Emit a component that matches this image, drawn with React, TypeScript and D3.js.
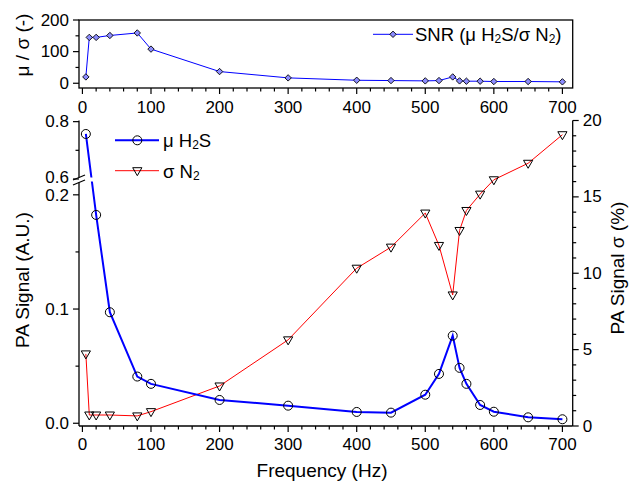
import React from "react";
import * as d3 from "d3";

const freqSNR = [5, 10, 20, 40, 80, 100, 200, 300, 400, 450, 500, 520, 540, 550, 560, 580, 600, 650, 700];
const snrValues = [20, 145, 145, 151, 159, 108, 37, 17, 9.5, 8.5, 7.5, 8.5, 20, 7.5, 6.5, 6.5, 5.5, 5.5, 4.5];

const freqH2S = [5, 20, 40, 80, 100, 200, 300, 400, 450, 500, 520, 540, 550, 560, 580, 600, 650, 700];
const h2sValues = [0.757, 0.1824, 0.0972, 0.0409, 0.0345, 0.0204, 0.0154, 0.0099, 0.0093, 0.025, 0.0432, 0.0767, 0.0485, 0.0345, 0.016, 0.0101, 0.0052, 0.0035];

const freqN2 = [5, 10, 20, 40, 80, 100, 200, 300, 400, 450, 500, 520, 540, 550, 560, 580, 600, 650, 700];
const n2Values = [4.72, 0.72, 0.72, 0.72, 0.66, 0.94, 2.62, 5.64, 10.33, 11.71, 13.94, 11.82, 8.58, 12.8, 14.11, 15.18, 16.12, 17.2, 19.07];

const xTicks = [0, 100, 200, 300, 400, 500, 600, 700];
const xMinorTicks = d3.range(0, 701, 20).filter((v) => v % 100 !== 0);
const snrTicks = [0, 100, 200];
const snrMinorTicks = [50, 150];
const leftLowTicks = [0, 0.1, 0.2];
const leftLowMinor = [0.05, 0.15];
const leftHighTicks = [0.6, 0.8];
const leftHighMinor = [0.7];
const rightTicks = [0, 5, 10, 15, 20];
const rightMinor = d3.range(0, 21, 1).filter((v) => v % 5 !== 0);

const FONT = "'Liberation Sans', Arial, sans-serif";
const TICK_FS = 17;
const TITLE_FS = 19;

export default function App() {
  const x = d3.scaleLinear().domain([-5, 715]).range([79, 572.7]);
  const L = 79, R = 572.7;
  // top panel
  const T1 = 20, B1 = 88;
  const ySNR = d3.scaleLinear().domain([-15, 200]).range([B1, T1]);
  // bottom panel
  const T2 = 120.5, B2 = 426;
  const yLow = d3.scaleLinear().domain([-0.0024, 0.21]).range([B2, 183.4]);
  const yHigh = d3.scaleLinear().domain([0.586, 0.804]).range([183, T2]);
  const yLeft = (v: number) => (v > 0.4 ? yHigh(v) : yLow(v));
  const yRight = d3.scaleLinear().domain([0, 20]).range([B2, T2]);

  const snrLine = d3.line<number>().x((_, i) => x(freqSNR[i])).y((d) => ySNR(d));
  const h2sLine = d3.line<number>().x((_, i) => x(freqH2S[i])).y((d) => yLeft(d));
  const n2Line = d3.line<number>().x((_, i) => x(freqN2[i])).y((d) => yRight(d));

  const diamond = (cx: number, cy: number, s = 3.2) =>
    `M${cx},${cy - s}L${cx + s},${cy}L${cx},${cy + s}L${cx - s},${cy}Z`;
  const tri = (cx: number, cy: number) =>
    `M${cx - 4.6},${cy - 3}L${cx + 4.6},${cy - 3}L${cx},${cy + 5}Z`;

  const txt = { fontFamily: FONT, fill: "#000" } as const;

  return (
    <svg width={629} height={486} style={{ position: "absolute", left: 0, top: 0, background: "#fff" }}>
      <defs>
        <clipPath id="brk">
          <rect x={L} y={T2 - 10} width={R - L} height={177.5 - (T2 - 10)} />
          <rect x={L} y={181.5} width={R - L} height={B2 + 10 - 181.5} />
        </clipPath>
      </defs>

      {/* ===== TOP PANEL ===== */}
      <rect x={L} y={T1} width={R - L} height={B1 - T1} fill="none" stroke="#000" strokeWidth={1.3} />
      {xTicks.map((v) => (
        <g key={"tx" + v}>
          <line x1={x(v)} x2={x(v)} y1={B1} y2={B1 + 6} stroke="#000" strokeWidth={1.2} />
          <text x={x(v)} y={107} textAnchor="middle" dominantBaseline="central" fontSize={TICK_FS} {...txt}>{v}</text>
        </g>
      ))}
      {xMinorTicks.map((v) => (
        <line key={"tmx" + v} x1={x(v)} x2={x(v)} y1={B1} y2={B1 + 3.5} stroke="#000" strokeWidth={1.2} />
      ))}
      {snrTicks.map((v) => (
        <g key={"sy" + v}>
          <line x1={L - 6} x2={L} y1={ySNR(v)} y2={ySNR(v)} stroke="#000" strokeWidth={1.2} />
          <text x={L - 10} y={ySNR(v)} textAnchor="end" dominantBaseline="central" fontSize={TICK_FS} {...txt}>{v}</text>
        </g>
      ))}
      {snrMinorTicks.map((v) => (
        <line key={"smy" + v} x1={L - 3.5} x2={L} y1={ySNR(v)} y2={ySNR(v)} stroke="#000" strokeWidth={1.2} />
      ))}
      <text transform={`translate(22,${45}) rotate(-90)`} textAnchor="middle" dominantBaseline="central" fontSize={TITLE_FS} {...txt}>μ / σ (-)</text>
      <path d={snrLine(snrValues) || ""} fill="none" stroke="#0000ff" strokeWidth={1} />
      {snrValues.map((v, i) => (
        <path key={"sd" + i} d={diamond(x(freqSNR[i]), ySNR(v))} fill="#8c8cff" stroke="#000" strokeWidth={0.9} />
      ))}
      {/* top legend */}
      <line x1={373} x2={413} y1={34.3} y2={34.3} stroke="#0000ff" strokeWidth={1} />
      <path d={diamond(393, 34.3)} fill="#8c8cff" stroke="#000" strokeWidth={0.9} />
      <text x={415} y={34} dominantBaseline="central" fontSize={18.5} {...txt}>
        SNR (μ H<tspan fontSize={12} dy={5}>2</tspan><tspan dy={-5}>S/σ N</tspan><tspan fontSize={12} dy={5}>2</tspan><tspan dy={-5}>)</tspan>
      </text>

      {/* ===== BOTTOM PANEL ===== */}
      <line x1={L} x2={R} y1={B2} y2={B2} stroke="#000" strokeWidth={1.3} />
      {xTicks.map((v) => (
        <g key={"bx" + v}>
          <line x1={x(v)} x2={x(v)} y1={B2} y2={B2 + 6} stroke="#000" strokeWidth={1.2} />
          <text x={x(v)} y={444} textAnchor="middle" dominantBaseline="central" fontSize={TICK_FS} {...txt}>{v}</text>
        </g>
      ))}
      {xMinorTicks.map((v) => (
        <line key={"bmx" + v} x1={x(v)} x2={x(v)} y1={B2} y2={B2 + 3.5} stroke="#000" strokeWidth={1.2} />
      ))}
      <text x={322} y={470} textAnchor="middle" dominantBaseline="central" fontSize={TITLE_FS} {...txt}>Frequency (Hz)</text>

      {/* left broken axis */}
      <line x1={L} x2={L} y1={B2} y2={182.5} stroke="#000" strokeWidth={1.3} />
      <line x1={L} x2={L} y1={177.5} y2={T2} stroke="#000" strokeWidth={1.3} />
      <line x1={73} x2={85} y1={180} y2={175} stroke="#000" strokeWidth={1.2} />
      <line x1={73} x2={85} y1={185} y2={180} stroke="#000" strokeWidth={1.2} />
      {leftLowTicks.map((v) => (
        <g key={"ll" + v}>
          <line x1={L - 6} x2={L} y1={yLow(v)} y2={yLow(v)} stroke="#000" strokeWidth={1.2} />
          <text x={L - 10} y={yLow(v) + (v === 0.2 ? 1 : 0)} textAnchor="end" dominantBaseline="central" fontSize={TICK_FS} {...txt}>{v.toFixed(1)}</text>
        </g>
      ))}
      {leftLowMinor.map((v) => (
        <line key={"llm" + v} x1={L - 3.5} x2={L} y1={yLow(v)} y2={yLow(v)} stroke="#000" strokeWidth={1.2} />
      ))}
      {leftHighTicks.map((v) => (
        <g key={"lh" + v}>
          <line x1={L - 6} x2={L} y1={yHigh(v)} y2={yHigh(v)} stroke="#000" strokeWidth={1.2} />
          <text x={L - 10} y={yHigh(v) - (v === 0.6 ? 1.5 : 0)} textAnchor="end" dominantBaseline="central" fontSize={TICK_FS} {...txt}>{v.toFixed(1)}</text>
        </g>
      ))}
      {leftHighMinor.map((v) => (
        <line key={"lhm" + v} x1={L - 3.5} x2={L} y1={yHigh(v)} y2={yHigh(v)} stroke="#000" strokeWidth={1.2} />
      ))}
      <text transform={`translate(22,${280}) rotate(-90)`} textAnchor="middle" dominantBaseline="central" fontSize={TITLE_FS} {...txt}>PA Signal (A.U.)</text>

      {/* right axis */}
      <line x1={R} x2={R} y1={B2} y2={T2} stroke="#000" strokeWidth={1.3} />
      {rightTicks.map((v) => (
        <g key={"r" + v}>
          <line x1={R} x2={R + 6} y1={yRight(v)} y2={yRight(v)} stroke="#000" strokeWidth={1.2} />
          <text x={R + 10} y={yRight(v)} textAnchor="start" dominantBaseline="central" fontSize={TICK_FS} {...txt}>{v}</text>
        </g>
      ))}
      {rightMinor.map((v) => (
        <line key={"rm" + v} x1={R} x2={R + 3.5} y1={yRight(v)} y2={yRight(v)} stroke="#000" strokeWidth={1.2} />
      ))}
      <text transform={`translate(617,${268}) rotate(-90)`} textAnchor="middle" dominantBaseline="central" fontSize={TITLE_FS} {...txt}>PA Signal σ (%)</text>

      {/* data */}
      <path d={n2Line(n2Values) || ""} fill="none" stroke="#ff0000" strokeWidth={1} />
      <g clipPath="url(#brk)">
        <path d={h2sLine(h2sValues) || ""} fill="none" stroke="#0000ff" strokeWidth={2} />
      </g>
      {n2Values.map((v, i) => (
        <path key={"nt" + i} d={tri(x(freqN2[i]), yRight(v))} fill="none" stroke="#000" strokeWidth={1} />
      ))}
      {h2sValues.map((v, i) => (
        <circle key={"hc" + i} cx={x(freqH2S[i])} cy={yLeft(v)} r={4.5} fill="none" stroke="#000" strokeWidth={1} />
      ))}

      {/* bottom legend */}
      <line x1={115} x2={159} y1={140.3} y2={140.3} stroke="#0000ff" strokeWidth={2} />
      <circle cx={137.3} cy={140.3} r={4.5} fill="none" stroke="#000" strokeWidth={1} />
      <text x={163} y={140} dominantBaseline="central" fontSize={18.5} {...txt}>
        μ H<tspan fontSize={12} dy={5}>2</tspan><tspan dy={-5}>S</tspan>
      </text>
      <line x1={115} x2={159} y1={170.7} y2={170.7} stroke="#ff0000" strokeWidth={1} />
      <path d={tri(137.3, 170.7)} fill="none" stroke="#000" strokeWidth={1} />
      <text x={163} y={171} dominantBaseline="central" fontSize={18.5} {...txt}>
        σ N<tspan fontSize={12} dy={5}>2</tspan>
      </text>
    </svg>
  );
}
